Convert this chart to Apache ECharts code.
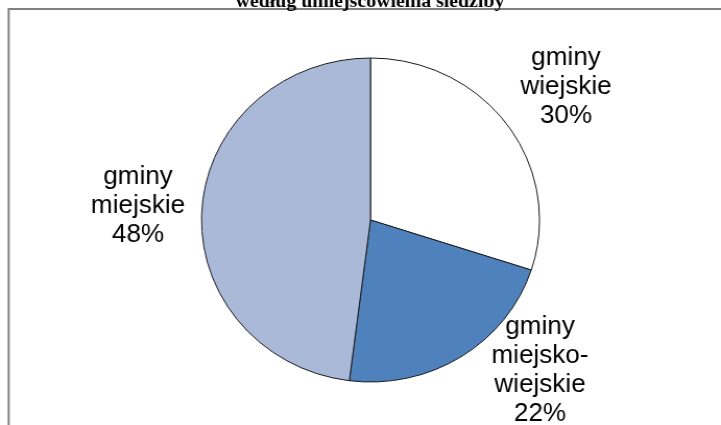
<!DOCTYPE html>
<html>
<head>
<meta charset="utf-8">
<script src="https://cdn.jsdelivr.net/npm/echarts@6/dist/echarts.min.js"></script>
<style>
html,body{margin:0;padding:0;background:#fff;overflow:hidden;}
#wrap{width:721px;height:425px;overflow:hidden;position:relative;}
#chart{position:absolute;left:0;top:0;width:691px;height:425px;transform:scaleX(1.0434);transform-origin:0 0;}
</style>
</head>
<body>
<div id="wrap"><div id="chart"></div></div>
<script>
// Data
const titleText = 'według umiejscowienia siedziby';
const categories = ['gminy\nwiejskie', 'gminy\nmiejsko-\nwiejskie', 'gminy\nmiejskie'];
const values = [30, 22, 48];
const colors = ['#ffffff', '#4f81bd', '#aab9d8'];

const S = 1.0434; // horizontal stretch of the original picture
const labelPos = [[566 / S, 87], [540 / S, 371], [138 / S, 206]];

const chart = echarts.init(document.getElementById('chart'), null, {renderer: 'canvas'});
chart.setOption({
  animation: false,
  backgroundColor: 'transparent',
  graphic: [
    {
      type: 'rect',
      shape: {x: 8.7 / S, y: 9, width: 720, height: 450},
      style: {fill: 'none', stroke: '#808080', lineWidth: 2},
      silent: true
    },
    {
      type: 'text',
      x: 370 / S,
      y: 2,
      style: {
        text: titleText,
        fontFamily: '"Liberation Serif", "Times New Roman", serif',
        fontWeight: 'bold',
        fontSize: 19,
        fill: '#000',
        align: 'center',
        verticalAlign: 'middle'
      },
      silent: true
    }
  ],
  series: [{
    type: 'pie',
    center: [370.5 / S, 220],
    radius: [0, 162],
    startAngle: 90,
    clockwise: true,
    silent: true,
    emphasis: {disabled: true},
    itemStyle: {borderColor: '#1a1a1a', borderWidth: 1},
    label: {
      show: true,
      formatter: p => p.name + '\n' + p.value + '%',
      fontFamily: '"Liberation Sans", Arial, sans-serif',
      fontSize: 25,
      lineHeight: 29,
      color: '#000',
      align: 'center'
    },
    labelLine: {show: false},
    labelLayout: p => ({
      x: labelPos[p.dataIndex][0],
      y: labelPos[p.dataIndex][1],
      align: 'center',
      verticalAlign: 'middle'
    }),
    data: categories.map((c, i) => ({name: c, value: values[i], itemStyle: {color: colors[i]}}))
  }]
});
</script>
</body>
</html>
